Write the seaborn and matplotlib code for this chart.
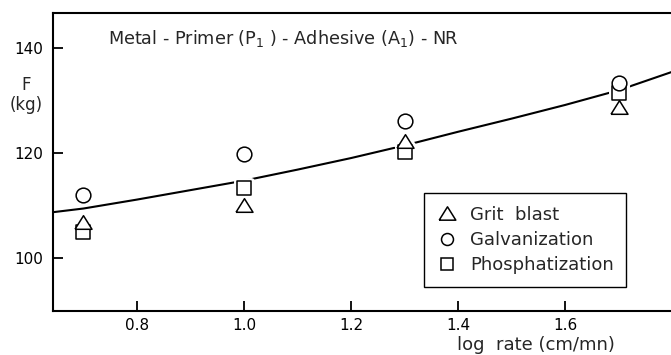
import matplotlib
matplotlib.use("Agg")
import matplotlib.pyplot as plt
from matplotlib.lines import Line2D
import pandas as pd
import seaborn as sns

# Peel strength F (kg) against log of the peel rate, three surface treatments
log_rate = [0.7, 1.0, 1.3, 1.7]
grit_blast = [107.0, 110.2, 122.3, 128.8]
galvanization = [112.1, 119.9, 126.1, 133.3]
phosphatization = [105.1, 113.4, 120.3, 131.4]

# Trend curve through the measurements
curve_x = [0.643, 0.7, 0.8, 0.9, 1.0, 1.1, 1.2, 1.3, 1.4, 1.5, 1.6, 1.7, 1.8]
curve_F = [108.8, 109.5, 111.2, 113.0, 114.8, 116.9, 119.1, 121.5, 124.1, 126.6, 129.2, 132.0, 135.5]

x_ticks = [0.8, 1.0, 1.2, 1.4, 1.6]
y_ticks = [100, 120, 140]

series = {
    "Grit  blast": grit_blast,
    "Galvanization": galvanization,
    "Phosphatization": phosphatization,
}
tri = [(-1.0, -0.8), (1.0, -0.8), (0.0, 0.8), (-1.0, -0.8)]
markers = {"Grit  blast": tri, "Galvanization": "o", "Phosphatization": "s"}
sizes = {"Grit  blast": 150, "Galvanization": 112, "Phosphatization": 90}
legend_sizes = {"Grit  blast": 12.0, "Galvanization": 8.6, "Phosphatization": 8.9}
draw_order = ["Phosphatization", "Grit  blast", "Galvanization"]

points = pd.DataFrame(
    [(x, f, name) for name, vals in series.items() for x, f in zip(log_rate, vals)],
    columns=["log_rate", "F", "treatment"],
)
curve = pd.DataFrame({"log_rate": curve_x, "F": curve_F})

sns.set_style("ticks")
plt.rcParams["font.family"] = ["DejaVu Sans"]

fig = plt.figure(figsize=(6.71, 3.55), dpi=100)
ax = fig.add_axes([53 / 671, 1 - 311 / 355, 1 - 53 / 671, (311 - 13) / 355])

sns.lineplot(data=curve, x="log_rate", y="F", ax=ax, color="black",
             linewidth=1.5, zorder=2)

# white collar under each marker opens a small gap in the curve
for name in draw_order:
    sub = points[points["treatment"] == name]
    sns.scatterplot(data=sub, x="log_rate", y="F", ax=ax, marker=markers[name],
                    s=sizes[name], color="white", edgecolor="white",
                    linewidth=5, zorder=2.5, legend=False)
for i, name in enumerate(draw_order):
    sub = points[points["treatment"] == name]
    sns.scatterplot(data=sub, x="log_rate", y="F", ax=ax, marker=markers[name],
                    s=sizes[name], color="white", edgecolor="black",
                    linewidth=1.1, zorder=3 + i, legend=False)

ax.set_xlim(0.643, 1.798)
ax.set_ylim(90, 146.7)
ax.set_xticks(x_ticks)
ax.set_xticklabels([f"{t:.1f}" for t in x_ticks])
ax.set_yticks(y_ticks)
ax.set_xlabel("")
ax.set_ylabel("")
ax.tick_params(axis="both", direction="in", length=7, width=1.3, labelsize=11,
               colors="black")
ax.tick_params(axis="y", pad=7)
ax.tick_params(axis="x", pad=5)

for side in ["left", "bottom", "top"]:
    ax.spines[side].set_visible(True)
    ax.spines[side].set_color("black")
    ax.spines[side].set_linewidth(1.5)
ax.spines["right"].set_visible(False)

ax.text(0.089, 0.896, "Metal - Primer (P$_1$ ) - Adhesive (A$_1$) - NR",
        transform=ax.transAxes, fontsize=12.7, va="baseline", ha="left")

fig.text(26 / 671, 1 - 85 / 355, "F", fontsize=12, ha="center", va="center")
fig.text(26 / 671, 1 - 105 / 355, "(kg)", fontsize=12, ha="center", va="center")
fig.text(536 / 671, 1 - 345 / 355, "log  rate (cm/mn)", fontsize=13,
         ha="center", va="center")

handles = [
    Line2D([], [], linestyle="none", marker=markers[name], markersize=legend_sizes[name],
           markerfacecolor="white", markeredgecolor="black", markeredgewidth=1.1,
           label=name)
    for name in series
]
leg = ax.legend(handles=handles, loc="upper left", bbox_to_anchor=(0.600, 0.396),
                fontsize=13, frameon=True, fancybox=False, framealpha=1,
                edgecolor="black", borderpad=0.7, labelspacing=0.4,
                handlelength=1.2, handletextpad=0.65, borderaxespad=0)
leg.get_frame().set_linewidth(1.0)

fig.savefig("out.png", dpi=100)
